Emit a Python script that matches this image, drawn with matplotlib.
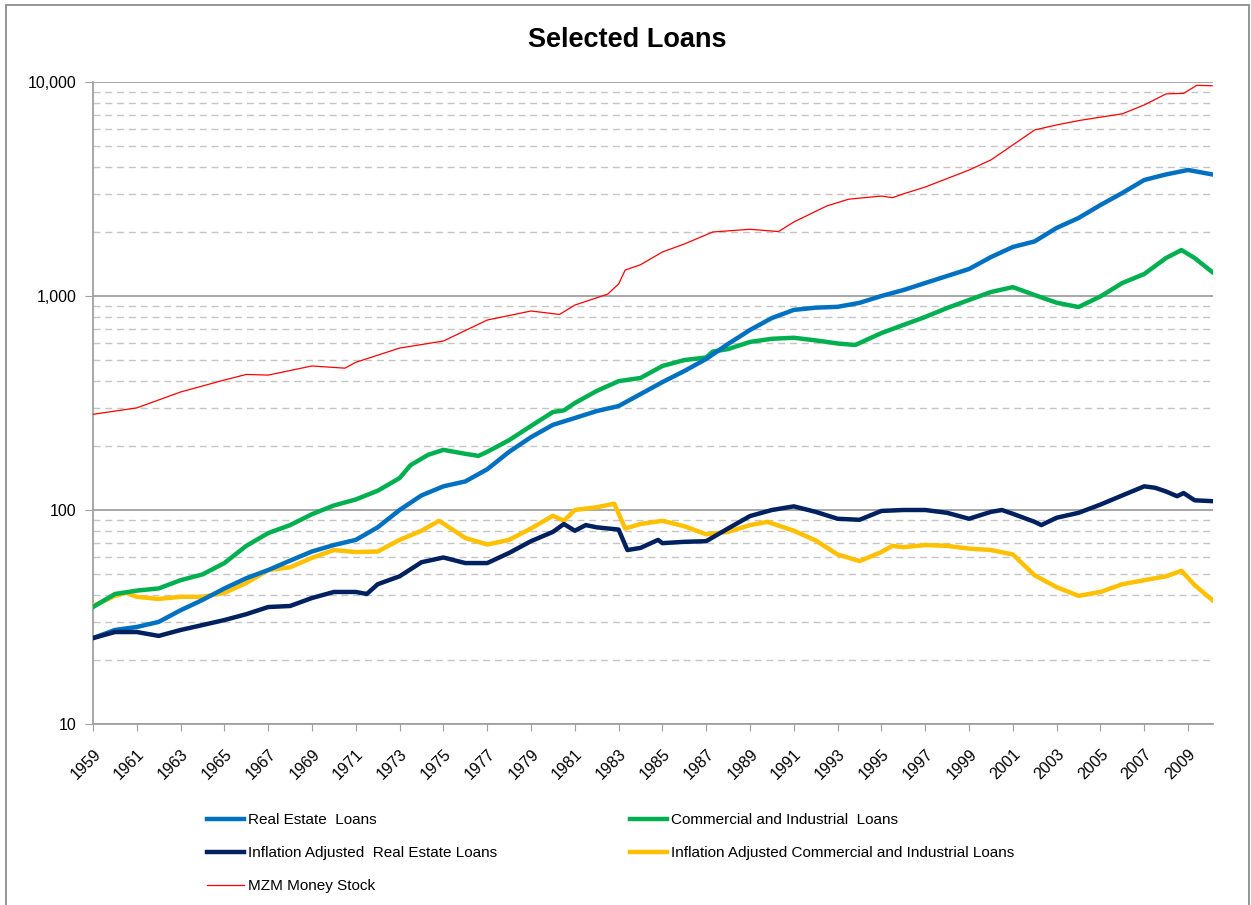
import matplotlib
matplotlib.use("Agg")
import matplotlib.pyplot as plt
from matplotlib.patches import Rectangle
from matplotlib.lines import Line2D
from matplotlib.ticker import FixedLocator, FuncFormatter, NullFormatter

plt.rcParams['font.family'] = ['Liberation Sans', 'DejaVu Sans']

# values (year, billions / index)
re_years = [1959, 1960, 1961, 1962, 1963, 1964, 1965, 1966, 1967, 1968, 1969, 1970, 1971, 1972,
            1973, 1974, 1975, 1976, 1977, 1978, 1979, 1980, 1981, 1982, 1983, 1984, 1985, 1986,
            1987, 1988, 1989, 1990, 1991, 1992, 1993, 1994, 1995, 1996, 1997, 1998, 1999, 2000,
            2001, 2002, 2003, 2004, 2005, 2006, 2007, 2008, 2009, 2010.1]
re_loans = [25.2, 27.5, 28.4, 30, 34, 38, 43, 48, 52.4, 58, 64, 68.6, 72.5, 83,
            100, 117, 129, 136, 155, 187, 219, 250, 269, 290, 306, 348, 396, 446,
            508, 597, 694, 789, 861, 882, 890, 929, 1000, 1066, 1150, 1240, 1337, 1520,
            1694, 1800, 2080, 2314, 2661, 3030, 3484, 3700, 3880, 3700]

ci_years = [1959, 1960, 1961, 1962, 1963, 1964, 1965, 1966, 1967, 1968, 1969, 1970, 1971, 1972,
            1973, 1973.5, 1974.3, 1975, 1976, 1976.6, 1977, 1978, 1979, 1980, 1980.5, 1981, 1982,
            1983, 1984, 1985, 1986, 1987.0, 1987.3, 1988, 1989, 1990, 1991, 1992, 1993, 1993.8,
            1995, 1996, 1997, 1998, 1999, 2000, 2001, 2002, 2003, 2004, 2005, 2006, 2007, 2008,
            2008.7, 2009.3, 2010.1]
ci_loans = [35.2, 40.5, 42, 43, 47, 50, 56.5, 68, 78, 85, 95.6, 105, 112, 123,
            141, 162, 181, 191, 183, 179, 187, 212, 247, 287, 292, 316, 360,
            400, 414, 471, 502, 516, 550, 565, 610, 631, 638, 620, 600, 590,
            671, 732, 798, 879, 958, 1044, 1100, 1010, 930, 888, 995, 1150, 1267, 1506,
            1640, 1505, 1295]

iare_years = [1959, 1960, 1961, 1962, 1963, 1964, 1965, 1966, 1967, 1968, 1969, 1970, 1971, 1971.5,
              1972, 1973, 1974, 1975, 1976, 1977, 1978, 1979, 1980, 1980.5, 1981, 1981.5, 1982,
              1983.0, 1983.4, 1984, 1984.8, 1985, 1986, 1987, 1988, 1989, 1990, 1991, 1992, 1993,
              1994, 1995, 1996, 1997, 1998, 1999, 2000, 2000.5, 2001, 2002, 2002.3, 2003, 2004,
              2005, 2006, 2007, 2007.5, 2008, 2008.5, 2008.8, 2009.3, 2010.1]
iare_loans = [25.2, 26.9, 26.9, 25.8, 27.5, 29, 30.6, 32.6, 35.2, 35.6, 38.8, 41.4, 41.4, 40.5,
              45, 49, 57, 60, 56.5, 56.5, 63, 71.5, 79, 86, 80, 85, 83,
              81, 65, 66.5, 72.5, 70, 71, 71.5, 82, 93.7, 100, 104, 98, 91,
              90, 99, 100, 100, 97, 91, 98, 100, 96, 88, 85, 92, 97,
              106, 117, 129, 127, 122, 116, 120, 111, 110]

iaci_years = [1959, 1960, 1960.5, 1961, 1962, 1963, 1964, 1965, 1966, 1967, 1968, 1969, 1970, 1971,
              1972, 1973, 1974, 1974.8, 1975.5, 1976, 1977, 1978, 1979, 1980, 1980.5, 1981, 1982,
              1982.8, 1983.3, 1984, 1985, 1986, 1987, 1988, 1989, 1989.8, 1991, 1992, 1993, 1994,
              1995, 1995.5, 1996, 1997, 1998, 1999, 2000, 2001, 2002, 2003, 2004, 2005, 2006,
              2007, 2008, 2008.7, 2009.3, 2010.1]
iaci_loans = [35.6, 39.7, 41, 39.3, 38.4, 39.3, 39.3, 41, 45.6, 52.4, 54, 59.8, 65, 63.6,
              64, 72.5, 80, 89, 80, 74, 69, 72.5, 82, 94, 89, 100, 103,
              107, 82, 86, 89, 84, 77, 79, 85, 88, 80, 72, 62, 57.7,
              63.6, 68, 67, 68.6, 68, 66, 65, 62, 49.5, 43.6, 39.7, 41.4, 45,
              47, 49, 52, 44.6, 38]

mzm_years = [1959, 1961, 1963, 1965, 1966, 1967, 1969, 1970.5, 1971, 1973, 1975, 1977, 1979,
             1980.3, 1981, 1982.5, 1983.0, 1983.3, 1984, 1985, 1986, 1987.3, 1989, 1990.3, 1991,
             1992.5, 1993.5, 1995, 1995.5, 1996, 1997, 1999, 2000, 2001, 2002, 2003, 2004, 2005,
             2006, 2007, 2008.0, 2008.8, 2009.4, 2010.1]
mzm_stock = [280, 300, 356, 405, 430, 427, 471, 460, 490, 571, 616, 772, 851,
             820, 907, 1020, 1138, 1322, 1400, 1606, 1750, 1991, 2050, 2000, 2218,
             2633, 2833, 2932, 2880, 3000, 3230, 3877, 4323, 5078, 5970, 6300, 6600, 6850,
             7100, 7813, 8800, 8850, 9650, 9600]

year_ticks = list(range(1959, 2010, 2))

fig = plt.figure(figsize=(12.51, 9.05), dpi=100)
ax = fig.add_axes([93 / 1251, 1 - 724 / 905, 1120 / 1251, (724 - 82) / 905])

ax.plot(mzm_years, mzm_stock, color='#FF0000', lw=0.9, zorder=3)
ax.plot(iaci_years, iaci_loans, color='#FFC000', lw=3.2, zorder=4)
ax.plot(iare_years, iare_loans, color='#002060', lw=3.2, zorder=5)
ax.plot(ci_years, ci_loans, color='#00B050', lw=3.2, zorder=4)
ax.plot(re_years, re_loans, color='#0070C0', lw=3.2, zorder=4)

ax.set_yscale('log')
ax.set_ylim(10, 10000)
ax.set_xlim(1959, 2010.14)

ax.yaxis.set_major_locator(FixedLocator([10, 100, 1000, 10000]))
ax.yaxis.set_major_formatter(FuncFormatter(lambda v, p: f"{int(v):,}"))
minors = [m * d for d in (10, 100, 1000) for m in range(2, 10)]
ax.yaxis.set_minor_locator(FixedLocator(minors))
ax.yaxis.set_minor_formatter(NullFormatter())
ax.grid(which='major', axis='y', color='#A0A0A0', lw=1.3, ls='-', zorder=1)
ax.grid(which='minor', axis='y', color='#C4C4C4', lw=1.0, ls=(0, (5, 3.5)), zorder=1)

ax.set_xticks(year_ticks)
ax.set_xticklabels([str(y) for y in year_ticks], rotation=45, ha='right',
                   rotation_mode='anchor', fontsize=11.5)
ax.tick_params(axis='y', which='major', labelsize=11.5, length=6, color='#A0A0A0', pad=6)
ax.tick_params(axis='y', which='minor', length=0)
ax.tick_params(axis='x', length=5, color='#A0A0A0', pad=11)

for s in ('top', 'right'):
    ax.spines[s].set_visible(False)
for s in ('left', 'bottom'):
    ax.spines[s].set_color('#A0A0A0')
    ax.spines[s].set_linewidth(1.3)

fig.text(627 / 1251, 1 - 40 / 905, 'Selected Loans', ha='center', va='center',
         fontsize=19.5, fontweight='bold')

h_re = Line2D([], [], color='#0070C0', lw=3.2)
h_iare = Line2D([], [], color='#002060', lw=3.2)
h_mzm = Line2D([], [], color='#FF0000', lw=0.9)
h_ci = Line2D([], [], color='#00B050', lw=3.2)
h_iaci = Line2D([], [], color='#FFC000', lw=3.2)

leg_kw = dict(frameon=False, fontsize=11, handlelength=2.4, handletextpad=0.3,
              labelspacing=1.25, borderaxespad=0, borderpad=0, loc='upper left')
fig.legend([h_re, h_iare, h_mzm],
           ['Real Estate  Loans', 'Inflation Adjusted  Real Estate Loans', 'MZM Money Stock'],
           bbox_to_anchor=(207 / 1251, 1 - 813 / 905), **leg_kw)
fig.legend([h_ci, h_iaci],
           ['Commercial and Industrial  Loans', 'Inflation Adjusted Commercial and Industrial Loans'],
           bbox_to_anchor=(630 / 1251, 1 - 813 / 905), **leg_kw)

fig.patches.append(Rectangle((6 / 1251, -0.01), 1243 / 1251, 1 - 5 / 905 + 0.01,
                             transform=fig.transFigure, fill=False, ec='#8C8C8C', lw=1.3))

fig.savefig('out.png', dpi=100, facecolor='white')
